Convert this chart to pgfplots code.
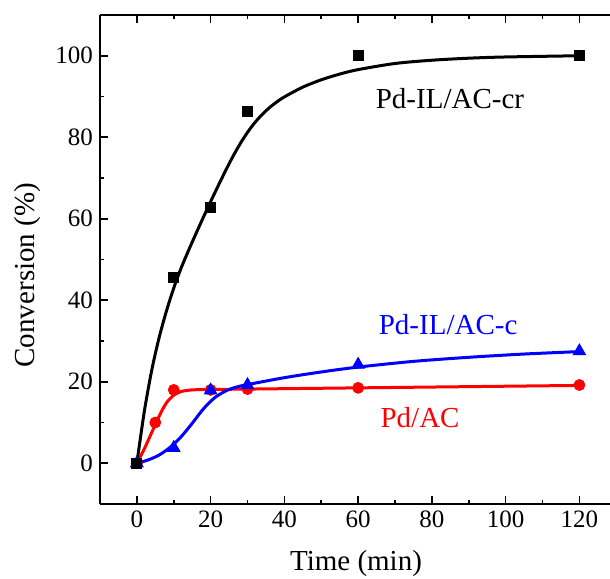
\documentclass[border=0pt]{standalone}
\usepackage{fontspec}
\setmainfont{Liberation Serif}
\usepackage{pgfplots}
\pgfplotsset{compat=1.18}
\begin{document}
\begin{tikzpicture}
\begin{axis}[
  scale only axis,
  width=255pt, height=244.5pt,
  xmin=-10, xmax=128.3, ymin=-10, ymax=110,
  axis x line=box, axis y line=left,
  axis line style={-, line width=1pt},
  xtick={0,20,...,120}, ytick={0,20,...,100},
  minor x tick num=1, minor y tick num=1,
  tick align=inside,
  major tick length=4pt, minor tick length=2pt,
  tick style={line width=0.8pt, black},
  /pgf/number format/assume math mode=true,
  ticklabel style={font=\fontsize{12.5}{14}\selectfont},
  xlabel={Time (min)}, ylabel={Conversion (\%)},
  every axis x label/.style={at={(axis description cs:0.502,-0.121)}, anchor=center, font=\fontsize{14.5}{17}\selectfont},
  every axis y label/.style={at={(axis description cs:-0.143,0.468)}, rotate=90, anchor=center, font=\fontsize{14.5}{17}\selectfont},
  clip=false,
]
% fitted curves
\addplot[red, line width=1.5pt, smooth, tension=0.5] coordinates {
 (0,0) (2,3.5) (4,7.5) (6,11.5) (8,14.8) (10,16.7) (12,17.6) (15,18.0) (20,18.1) (30,18.2) (60,18.5) (120,19.1)};
\addplot[red, only marks, mark=*, mark size=2.75pt] coordinates {
 (0,0) (5,10) (10,18) (20,18) (30,18.2) (60,18.5) (120,19.2)};
\addplot[blue, line width=1.5pt, smooth, tension=0.5] coordinates {
 (0,0) (3,0.8) (6,2.0) (9,3.9) (12,6.5) (15,9.8) (18,13.3) (21,16.0) (24,17.7) (27,18.7) (30,19.3) (40,21) (50,22.4) (60,23.6) (75,25) (90,26) (105,26.8) (120,27.4)};
\addplot[blue, only marks, mark=triangle*, mark size=3.6pt] coordinates {
 (0,0) (10,3.8) (20,17.9) (30,19.2) (60,24.2) (120,27.5)};
\addplot[black, line width=1.5pt, smooth, tension=0.5] coordinates {
 (0,0) (2,12.6) (4,22.7) (6,30.7) (8,37.3) (10,43.0) (12,47.9) (14,52.2) (16,56.3) (18,60.3) (20,64.2) (22,68.0) (24,71.7) (26,75.2) (28,78.4) (30,81.2) (32,83.6) (34,85.6) (36,87.3) (38,88.7) (40,89.9) (45,92.3) (50,94.1) (55,95.5) (60,96.6) (70,98.1) (80,98.9) (90,99.4) (100,99.7) (120,100)};
\addplot[black, only marks, mark=square*, mark size=2.5pt] coordinates {
 (0,0) (10,45.5) (20,62.9) (30,86.3) (60,100) (120,100.1)};
\node[black, font=\fontsize{14.5}{17}\selectfont] at (axis cs:84.9,89.4) {Pd-IL/AC-cr};
\node[blue, font=\fontsize{14.5}{17}\selectfont] at (axis cs:84.4,34.1) {Pd-IL/AC-c};
\node[red, font=\fontsize{14.5}{17}\selectfont] at (axis cs:76.8,11.2) {Pd/AC};
\end{axis}
\pgfresetboundingbox
\path[use as bounding box] ([xshift=-50pt,yshift=-37pt]current axis.south west) rectangle ([yshift=7.5pt]current axis.north east);
\end{tikzpicture}
\end{document}
